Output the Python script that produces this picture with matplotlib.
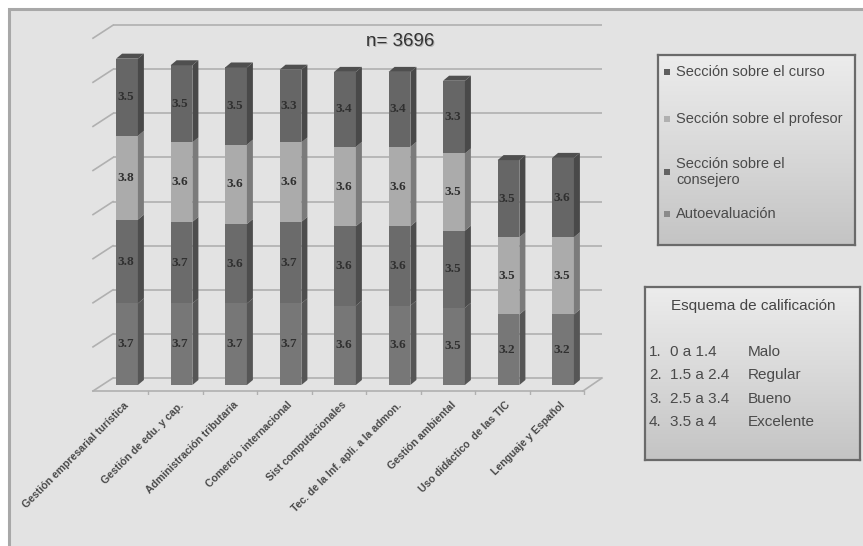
import matplotlib
matplotlib.use("Agg")
import matplotlib.pyplot as plt
import numpy as np
from matplotlib.patches import Polygon, Rectangle
from matplotlib.colors import to_rgb

# ---- data -------------------------------------------------------------
categories = [
    "Gestión empresarial turística",
    "Gestión de edu. y cap.",
    "Administración tributaria",
    "Comercio internacional",
    "Sist computacionales",
    "Tec. de la Inf. apli. a la admon.",
    "Gestión ambiental",
    "Uso didáctico  de las TIC",
    "Lenguaje y Español",
]
autoevaluacion = [3.7, 3.7, 3.7, 3.7, 3.6, 3.6, 3.5, 3.2, 3.2]
consejero = [3.8, 3.7, 3.6, 3.7, 3.6, 3.6, 3.5, 0.0, 0.0]
profesor = [3.8, 3.6, 3.6, 3.6, 3.6, 3.6, 3.5, 3.5, 3.5]
curso = [3.5, 3.5, 3.5, 3.3, 3.4, 3.4, 3.3, 3.5, 3.6]

series_names = ["Autoevaluación", "Sección sobre el consejero",
                "Sección sobre el profesor", "Sección sobre el curso"]
series_values = [autoevaluacion, consejero, profesor, curso]
series_colors = ["#777777", "#6b6b6b", "#ababab", "#666666"]

legend_labels = ["Sección sobre el curso", "Sección sobre el profesor",
                 "Sección sobre el\nconsejero", "Autoevaluación"]
legend_colors = ["#5e5e5e", "#b0b0b0", "#636363", "#8a8a8a"]

scale_title = "Esquema de calificación"
scale_nums = ["1.", "2.", "3.", "4."]
scale_ranges = ["0 a 1.4", "1.5 a 2.4", "2.5 a 3.4", "3.5 a 4"]
scale_names = ["Malo", "Regular", "Bueno", "Excelente"]
sample_label = "n= 3696"
grid_values = np.arange(0, 17, 2)

# ---- figure / geometry -------------------------------------------------
W, H = 863, 546
fig = plt.figure(figsize=(W / 100, H / 100), dpi=100)
fig.patch.set_facecolor("white")

def fx(px):
    return px / W

def fy(py):
    return 1 - py / H

# outer frame (behind everything)
fig.patches.append(Rectangle((fx(9), fy(560)), fx(900), fy(9) - fy(560),
                             transform=fig.transFigure, facecolor="#e3e3e3",
                             edgecolor="#a8a8a8", linewidth=2.2, zorder=-5))

# main plotting axes, in pixel-calibrated data units
CX0, UX = 127.0, 54.5     # centre of first category, px per category
BASE, UY = 385.0, 22.05   # bar baseline, px per value unit
ax_l, ax_r, ax_t, ax_b = 60, 640, 20, 395
ax = fig.add_axes([fx(ax_l), fy(ax_b), fx(ax_r - ax_l), fy(ax_t) - fy(ax_b)])
ax.set_xlim((ax_l - CX0) / UX, (ax_r - CX0) / UX)
ax.set_ylim((BASE - ax_b) / UY, (BASE - ax_t) / UY)
ax.axis("off")
ax.patch.set_alpha(0)

def dxp(p):
    return p / UX

def dyp(p):
    return p / UY

def xp(px):
    return (px - CX0) / UX

back_dy = dyp(7)
front_dy = dyp(-6)
grid_c = "#b0b0b0"

# back wall grid lines with depth diagonals
for g in grid_values:
    ax.plot([xp(113), xp(602)], [g + back_dy, g + back_dy], color=grid_c,
            lw=1.2, zorder=1, solid_capstyle="butt")
    ax.plot([xp(93), xp(113)], [g + front_dy, g + back_dy], color=grid_c,
            lw=1.2, zorder=1)

# floor
ax.plot([xp(93), xp(583)], [front_dy, front_dy], color=grid_c, lw=1.2, zorder=1)
ax.plot([xp(583), xp(602)], [front_dy, back_dy], color=grid_c, lw=1.2, zorder=1)
xs = np.arange(len(categories))
for i in xs:
    tx = i + 0.5 - dxp(6)
    ax.plot([tx, tx], [front_dy, front_dy - dyp(4)], color=grid_c, lw=1.0, zorder=1)

# bars with simple 3-D side and top faces
bw = 0.40
sdx, sdy = dxp(6), dyp(5)

def darker(c, f):
    r, g, b = to_rgb(c)
    return (r * f, g * f, b * f)

bottom = np.zeros(len(categories))
for name, vals, col in zip(series_names, series_values, series_colors):
    vals = np.asarray(vals, dtype=float)
    bars = ax.bar(xs, vals, bottom=bottom, width=bw, color=col,
                  edgecolor="none", zorder=3)
    for rect, v, b in zip(bars, vals, bottom):
        if v <= 0:
            continue
        x1 = rect.get_x() + rect.get_width()
        side = Polygon([(x1, b), (x1 + sdx, b + sdy), (x1 + sdx, b + v + sdy),
                        (x1, b + v)], closed=True, facecolor=darker(col, 0.72),
                       edgecolor="none", zorder=3)
        ax.add_patch(side)
        ax.text(rect.get_x() + rect.get_width() / 2 - 0.03, b + v / 2,
                f"{v:.1f}", ha="center", va="center", fontsize=9.5,
                fontweight="bold", family="Liberation Serif", color="#303030",
                zorder=5)
    bottom = bottom + vals

# top faces
for i, top in zip(xs, bottom):
    x0 = i - bw / 2
    x1 = i + bw / 2
    ax.add_patch(Polygon([(x0, top), (x0 + sdx, top + sdy), (x1 + sdx, top + sdy),
                          (x1, top)], closed=True, facecolor="#4f4f4f",
                         edgecolor="none", zorder=4))

# category labels
for i, lab in zip(xs, categories):
    ax.text(i - 0.06, dyp(-15), lab, rotation=45, ha="right", va="top",
            rotation_mode="anchor", fontsize=7.6, fontweight="bold",
            family="Liberation Sans", color="#4a4a4a", clip_on=False)

# sample size title
fig.text(fx(401), fy(43), sample_label, fontsize=13.5, color="#b5b5b5",
         family="Liberation Sans", ha="center", va="center")
fig.text(fx(400), fy(42), sample_label, fontsize=13.5, color="#333333",
         family="Liberation Sans", ha="center", va="center")

# gradient boxes
def grad_box(x0, y0, x1, y1):
    bax = fig.add_axes([fx(x0), fy(y1), fx(x1 - x0), fy(y0) - fy(y1)])
    grad = np.linspace(0, 1, 100)[:, None]
    cmap = matplotlib.colors.LinearSegmentedColormap.from_list(
        "g", ["#ececec", "#d9d9d9", "#c4c4c4"])
    bax.imshow(grad, aspect="auto", cmap=cmap, extent=[0, 1, 0, 1], origin="upper")
    bax.set_xticks([])
    bax.set_yticks([])
    for s in bax.spines.values():
        s.set_edgecolor("#6a6a6a")
        s.set_linewidth(1.6)
    return bax

grad_box(658, 55, 855, 245)
leg_y = [72, 119, 172, 214]
for lab, col, y in zip(legend_labels, legend_colors, leg_y):
    fig.patches.append(Rectangle((fx(664), fy(y + 3)), fx(6), fy(y - 3) - fy(y + 3),
                                 transform=fig.transFigure, facecolor=col,
                                 edgecolor="none", zorder=10))
    fig.text(fx(676), fy(y), lab, fontsize=10.5, color="#4a4a4a",
             family="Liberation Sans", ha="left", va="center",
             linespacing=1.15, zorder=10)

grad_box(645, 287, 860, 460)
fig.text(fx(753), fy(306), scale_title, fontsize=11, color="#444444",
         family="Liberation Sans", ha="center", va="center", zorder=10)
for k, (n, r, s) in enumerate(zip(scale_nums, scale_ranges, scale_names)):
    y = 352 + k * 23.3
    fig.text(fx(649), fy(y), n, fontsize=11, color="#4a4a4a",
             family="Liberation Sans", ha="left", va="center", zorder=10)
    fig.text(fx(670), fy(y), r, fontsize=11, color="#4a4a4a",
             family="Liberation Sans", ha="left", va="center", zorder=10)
    fig.text(fx(748), fy(y), s, fontsize=11, color="#4a4a4a",
             family="Liberation Sans", ha="left", va="center", zorder=10)

fig.savefig("out.png", dpi=100, facecolor=fig.get_facecolor())
